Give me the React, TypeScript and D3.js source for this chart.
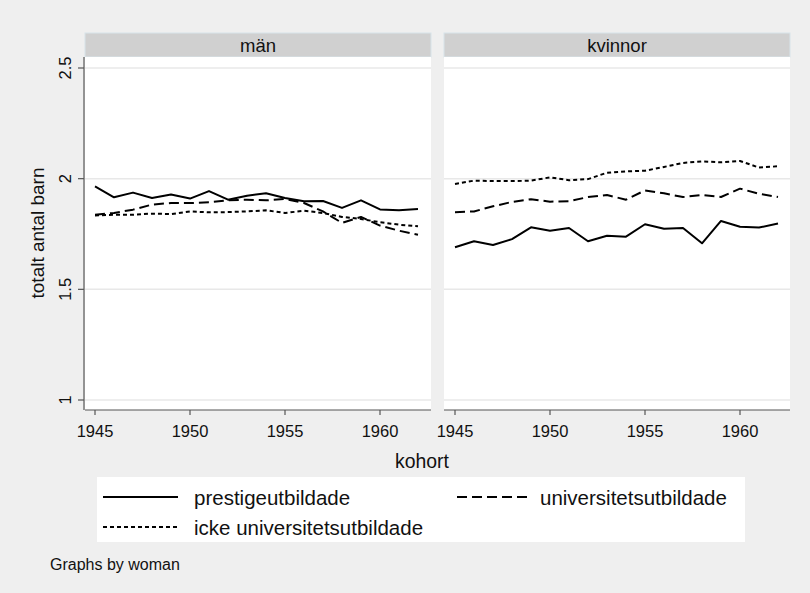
import React from "react";
import * as d3 from "d3";

const years = [1945,1946,1947,1948,1949,1950,1951,1952,1953,1954,1955,1956,1957,1958,1959,1960,1961,1962];
const panels = ["män", "kvinnor"];
const seriesNames = ["prestigeutbildade", "universitetsutbildade", "icke universitetsutbildade"];

const manPrestige = [1.965,1.916,1.937,1.913,1.928,1.910,1.944,1.905,1.923,1.934,1.913,1.898,1.899,1.868,1.902,1.861,1.857,1.863];
const manUniv = [1.837,1.845,1.860,1.883,1.890,1.890,1.893,1.902,1.905,1.902,1.908,1.890,1.852,1.800,1.827,1.788,1.765,1.747];
const manIcke = [1.834,1.837,1.837,1.842,1.840,1.852,1.848,1.849,1.852,1.857,1.845,1.855,1.845,1.827,1.818,1.803,1.792,1.785];

const kvPrestige = [1.690,1.717,1.700,1.727,1.780,1.765,1.777,1.717,1.742,1.738,1.794,1.774,1.777,1.708,1.809,1.783,1.779,1.797];
const kvUniv = [1.848,1.852,1.875,1.895,1.907,1.896,1.898,1.917,1.926,1.905,1.947,1.934,1.917,1.926,1.917,1.955,1.932,1.917];
const kvIcke = [1.976,1.991,1.989,1.989,1.991,2.006,1.993,1.998,2.027,2.033,2.036,2.053,2.071,2.078,2.074,2.080,2.050,2.056];

const yTicks = [1, 1.5, 2, 2.5];
const yTickLabels = ["1", "1.5", "2", "2.5"];
const xTicks = [1945, 1950, 1955, 1960];

const FONT = "'Liberation Sans', Arial, Helvetica, sans-serif";
const dashes = ["none", "10 5", "4 3"];

export default function App() {
  const W = 810, H = 593;
  const y = d3.scaleLinear().domain([1, 2.5]).range([400, 68]);
  const plotTop = 57, plotBottom = 410;
  const panelDefs = [
    { name: panels[0], x0: 85, x1: 431, data: [manPrestige, manUniv, manIcke], x: d3.scaleLinear().domain([1945, 1960]).range([95, 380]) },
    { name: panels[1], x0: 444, x1: 790, data: [kvPrestige, kvUniv, kvIcke], x: d3.scaleLinear().domain([1945, 1960]).range([455, 740]) },
  ];
  const axisColor = "#555555";

  return (
    <svg width={W} height={H} style={{ position: "absolute", left: 0, top: 0 }} fontFamily={FONT}>
      <rect x={0} y={0} width={W} height={H} fill="#efefef" />
      {panelDefs.map((p, pi) => {
        const line = d3.line<number>().x((_, i) => p.x(years[i])).y((v) => y(v));
        return (
          <g key={pi}>
            <rect x={p.x0} y={33} width={p.x1 - p.x0} height={24} fill="#d0d0d0" stroke="#d8e4ea" strokeWidth={1} />
            <text x={(p.x0 + p.x1) / 2} y={45} textAnchor="middle" dominantBaseline="central" fontSize={18.5} fill="#111">{p.name}</text>
            <rect x={p.x0} y={plotTop} width={p.x1 - p.x0} height={plotBottom - plotTop} fill="#ffffff" />
            {yTicks.map((t) => (
              <line key={t} x1={p.x0} x2={p.x1} y1={y(t)} y2={y(t)} stroke="#e8e8e8" strokeWidth={1.5} />
            ))}
            {p.data.map((s, si) => (
              <path key={si} d={line(s) || ""} fill="none" stroke="#000" strokeWidth={2} strokeDasharray={dashes[si]} strokeLinejoin="round" />
            ))}
            <line x1={p.x0} x2={p.x1} y1={plotBottom} y2={plotBottom} stroke={axisColor} strokeWidth={1.2} />
            {xTicks.map((t) => (
              <g key={t}>
                <line x1={p.x(t)} x2={p.x(t)} y1={plotBottom} y2={plotBottom + 5} stroke={axisColor} strokeWidth={1.2} />
                <text x={p.x(t)} y={431} textAnchor="middle" dominantBaseline="central" fontSize={16.5} fill="#111">{t}</text>
              </g>
            ))}
          </g>
        );
      })}
      {/* left y axis */}
      <line x1={84} x2={84} y1={plotTop} y2={plotBottom} stroke={axisColor} strokeWidth={1.2} />
      {yTicks.map((t, i) => (
        <g key={t}>
          <line x1={78} x2={84} y1={y(t)} y2={y(t)} stroke={axisColor} strokeWidth={1.2} />
          <text transform={`translate(71,${y(t)}) rotate(-90)`} textAnchor="middle" fontSize={16.5} fill="#111">{yTickLabels[i]}</text>
        </g>
      ))}
      <text transform={`translate(37,233) rotate(-90)`} textAnchor="middle" dominantBaseline="central" fontSize={19} fill="#111">totalt antal barn</text>
      <text x={422} y={461} textAnchor="middle" dominantBaseline="central" fontSize={19.4} fill="#111">kohort</text>
      {/* legend */}
      <rect x={97} y={477} width={648} height={65} fill="#ffffff" />
      {[
        { si: 0, lx: 103, tx: 194, cy: 497 },
        { si: 1, lx: 457, tx: 540, cy: 497 },
        { si: 2, lx: 103, tx: 194, cy: 527 },
      ].map((l) => (
        <g key={l.si}>
          <line x1={l.lx} x2={l.lx + 75} y1={l.cy} y2={l.cy} stroke="#000" strokeWidth={2} strokeDasharray={dashes[l.si]} />
          <text x={l.tx} y={l.cy} dominantBaseline="central" fontSize={20.5} fill="#111">{seriesNames[l.si]}</text>
        </g>
      ))}
      <text x={50} y={564} dominantBaseline="central" fontSize={16} fill="#111">Graphs by woman</text>
    </svg>
  );
}
